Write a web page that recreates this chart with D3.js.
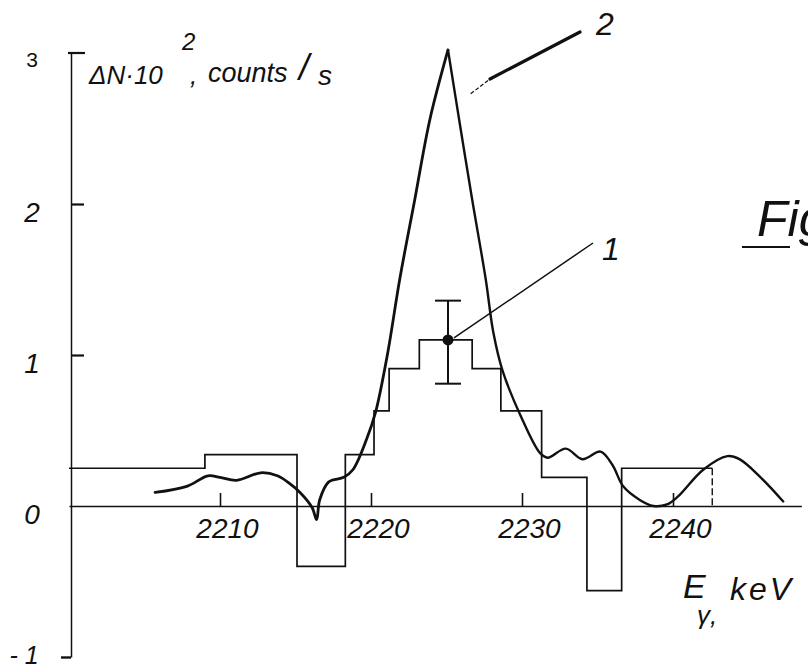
<!DOCTYPE html>
<html>
<head>
<meta charset="utf-8">
<script src="https://cdn.jsdelivr.net/npm/d3@7"></script>
<style>
  html, body { margin: 0; padding: 0; background: #fff; }
  svg { display: block; }
  text { font-family: "Liberation Sans", "DejaVu Sans", sans-serif; font-style: italic; fill: #111; }
</style>
</head>
<body>
<svg id="chart" width="808" height="671"></svg>
<script>
// Energy axis ticks (keV) and count-rate axis ticks (ΔN·10², counts/s)
const energyTicks = [2210, 2220, 2230, 2240];
const countTicks = [3, 2, 1, 0, -1];

// Curve 1: difference spectrum as a histogram (bin edges in keV, values per bin)
const binEdges  = [2200, 2209, 2215.1, 2218.3, 2220.2, 2221.2, 2223.2, 2226.7, 2228.6, 2231.3, 2234.3, 2236.6, 2242.6];
const binCounts = [0.25, 0.34, -0.40, 0.34, 0.63, 0.91, 1.10, 0.91, 0.63, 0.19, -0.56, 0.25];

// Representative statistical error on the central bin
const errorE = 2225.1;
const errorValue = 1.10;
const errorHigh = 1.36;
const errorLow = 0.81;

// Curve 2: smoothed spectrum (keV, ΔN·10²)
const spectrumE = [2205.7, 2207.8, 2209.2, 2210.0, 2211.1, 2212.7, 2213.8, 2214.6, 2215.3, 2216.1, 2216.4,
                   2216.6, 2217.2, 2218.2, 2218.8, 2219.7, 2220.3, 2221.1, 2221.9, 2222.9, 2223.9, 2225.1,
                   2225.9, 2226.7, 2227.6, 2228.1, 2228.7, 2229.9, 2231.2, 2231.7, 2232.9, 2234.0, 2235.2,
                   2236.0, 2236.7, 2237.8, 2238.7, 2239.6, 2240.3, 2242.0, 2243.6, 2244.4, 2245.8, 2247.3];
const spectrumN = [0.09, 0.13, 0.20, 0.19, 0.17, 0.22, 0.20, 0.15, 0.09, -0.01, -0.09,
                   0.04, 0.16, 0.19, 0.24, 0.44, 0.62, 1.01, 1.50, 2.03, 2.56, 3.02,
                   2.52, 2.03, 1.50, 1.15, 0.90, 0.60, 0.35, 0.32, 0.38, 0.31, 0.36,
                   0.27, 0.13, 0.04, 0.00, 0.01, 0.06, 0.24, 0.33, 0.31, 0.19, 0.03];
const peakE = 2225.1;

const svg = d3.select("#chart");
svg.append("rect").attr("width", 808).attr("height", 671).attr("fill", "#fff");

const x = d3.scaleLinear().domain([2200, 2248.5]).range([69, 801.35]);
const y = d3.scaleLinear().domain([-1, 3]).range([657, 53]);
const ink = "#111";
const axisX = 71;

// ---- energy axis (ticks point upward, labels below) ----
const xAxis = d3.axisBottom(x)
  .tickValues(energyTicks)
  .tickSizeInner(-13)
  .tickSizeOuter(0)
  .tickPadding(12)
  .tickFormat(d3.format("d"));
const gx = svg.append("g").attr("transform", `translate(0,${y(0)})`).call(xAxis);
gx.select(".domain").attr("stroke", ink).attr("stroke-width", 1.5);
gx.selectAll(".tick line").attr("stroke", ink).attr("stroke-width", 1.6);
gx.selectAll(".tick text")
  .attr("fill", ink)
  .attr("font-size", 28)
  .attr("dx", 7)
  .style("font-family", "'Liberation Sans', sans-serif")
  .style("font-style", "italic");

// ---- count-rate axis ----
const gy = svg.append("g").attr("transform", `translate(${axisX},0)`)
  .call(d3.axisRight(y).tickValues([1, 2]).tickSizeInner(13).tickSizeOuter(0).tickFormat(""));
gy.select(".domain").attr("stroke", ink).attr("stroke-width", 1.5);
gy.selectAll(".tick line").attr("stroke", ink).attr("stroke-width", 2.2);

const gyNeg = svg.append("g").attr("transform", `translate(${axisX},0)`)
  .call(d3.axisLeft(y).tickValues([-1]).tickSizeInner(10).tickSizeOuter(0).tickFormat(""));
gyNeg.select(".domain").remove();
gyNeg.selectAll(".tick line").attr("stroke", ink).attr("stroke-width", 2.4);

// cap at the top of the axis
svg.append("line")
  .attr("x1", axisX - 3).attr("x2", axisX + 14)
  .attr("y1", y(3)).attr("y2", y(3))
  .attr("stroke", ink).attr("stroke-width", 2.2);

svg.selectAll(".ylab")
  .data(countTicks)
  .join("text")
  .attr("class", "ylab")
  .attr("x", d => d < 0 ? 24 : 32)
  .attr("y", d => y(d) + (d < 0 ? 7 : (d === 3 ? 14 : 18)))
  .attr("text-anchor", "middle")
  .attr("font-size", d => d === 3 ? 21 : (d < 0 ? 25 : 28))
  .style("font-style", d => d === 3 ? "normal" : "italic")
  .text(d => d < 0 ? "- " + Math.abs(d) : d);

// ---- axis titles ----
svg.append("text").attr("x", 89).attr("y", 84).attr("font-size", 26).text("ΔN·10");
svg.append("text").attr("x", 182).attr("y", 50).attr("font-size", 24).text("2");
svg.append("text").attr("x", 190).attr("y", 84).attr("font-size", 26).text(",");
svg.append("text").attr("x", 208).attr("y", 82).attr("font-size", 27).text("counts");
svg.append("text").attr("x", 299).attr("y", 80).attr("font-size", 36).text("/");
svg.append("text").attr("x", 318).attr("y", 85).attr("font-size", 28).text("s");

svg.append("text").attr("x", 683).attr("y", 598).attr("font-size", 34).text("E");
svg.append("text").attr("x", 697).attr("y", 624).attr("font-size", 26).text("γ,");
svg.append("text").attr("x", 730).attr("y", 600).attr("font-size", 32)
  .attr("letter-spacing", 3).text("keV");

// figure tag at the right edge
svg.append("text").attr("x", 757).attr("y", 236).attr("font-size", 50).text("Fig");
svg.append("line")
  .attr("x1", 742).attr("x2", 790).attr("y1", 247).attr("y2", 247)
  .attr("stroke", ink).attr("stroke-width", 2);

// ---- curve 1: histogram ----
const stepPts = binCounts.map((v, i) => [binEdges[i], v]);
stepPts.push([binEdges[binEdges.length - 1], binCounts[binCounts.length - 1]]);
const stepLine = d3.line().x(d => x(d[0])).y(d => y(d[1])).curve(d3.curveStepAfter);
svg.append("path")
  .attr("d", stepLine(stepPts))
  .attr("fill", "none")
  .attr("stroke", ink)
  .attr("stroke-width", 1.7);

// last bin closes down to the baseline with a dashed edge
const lastEdge = binEdges[binEdges.length - 1];
svg.append("line")
  .attr("x1", x(lastEdge)).attr("x2", x(lastEdge))
  .attr("y1", y(binCounts[binCounts.length - 1])).attr("y2", y(0))
  .attr("stroke", ink).attr("stroke-width", 1.4)
  .attr("stroke-dasharray", "7 3");

// error bar on the central bin
const capHalf = 13;
svg.append("line")
  .attr("x1", x(errorE)).attr("x2", x(errorE))
  .attr("y1", y(errorHigh)).attr("y2", y(errorLow))
  .attr("stroke", ink).attr("stroke-width", 2);
[errorHigh, errorLow].forEach(v => {
  svg.append("line")
    .attr("x1", x(errorE) - capHalf).attr("x2", x(errorE) + capHalf)
    .attr("y1", y(v)).attr("y2", y(v))
    .attr("stroke", ink).attr("stroke-width", 2);
});
svg.append("circle")
  .attr("cx", x(errorE)).attr("cy", y(errorValue)).attr("r", 5.5)
  .attr("fill", ink);

// ---- curve 2: smoothed spectrum, sharp at the peak ----
const spectrum = spectrumE.map((e, i) => [e, spectrumN[i]]);
const smooth = d3.line().x(d => x(d[0])).y(d => y(d[1])).curve(d3.curveCatmullRom.alpha(0.5));
const leftPart = spectrum.filter(d => d[0] <= peakE);
const rightPart = spectrum.filter(d => d[0] >= peakE);
svg.append("path").attr("d", smooth(leftPart))
  .attr("fill", "none").attr("stroke", ink).attr("stroke-width", 2.8)
  .attr("stroke-linejoin", "round").attr("stroke-linecap", "round");
svg.append("path").attr("d", smooth(rightPart))
  .attr("fill", "none").attr("stroke", ink).attr("stroke-width", 2.4)
  .attr("stroke-linejoin", "round").attr("stroke-linecap", "round");

// ---- curve labels with leader lines ----
svg.append("line")
  .attr("x1", x(errorE) + 6).attr("y1", y(errorValue) - 2)
  .attr("x2", 593).attr("y2", 243)
  .attr("stroke", ink).attr("stroke-width", 1.5);
svg.append("text").attr("x", 602).attr("y", 260).attr("font-size", 32).text("1");

const l2x = x(2226.6), l2y = y(2.73);
svg.append("line")
  .attr("x1", l2x).attr("y1", l2y).attr("x2", 490).attr("y2", 79)
  .attr("stroke", ink).attr("stroke-width", 1.2).attr("stroke-dasharray", "4 2");
svg.append("line")
  .attr("x1", 490).attr("y1", 79).attr("x2", 580).attr("y2", 32)
  .attr("stroke", ink).attr("stroke-width", 3.2).attr("stroke-linecap", "round");
svg.append("text").attr("x", 596).attr("y", 35).attr("font-size", 32).text("2");
</script>
</body>
</html>
